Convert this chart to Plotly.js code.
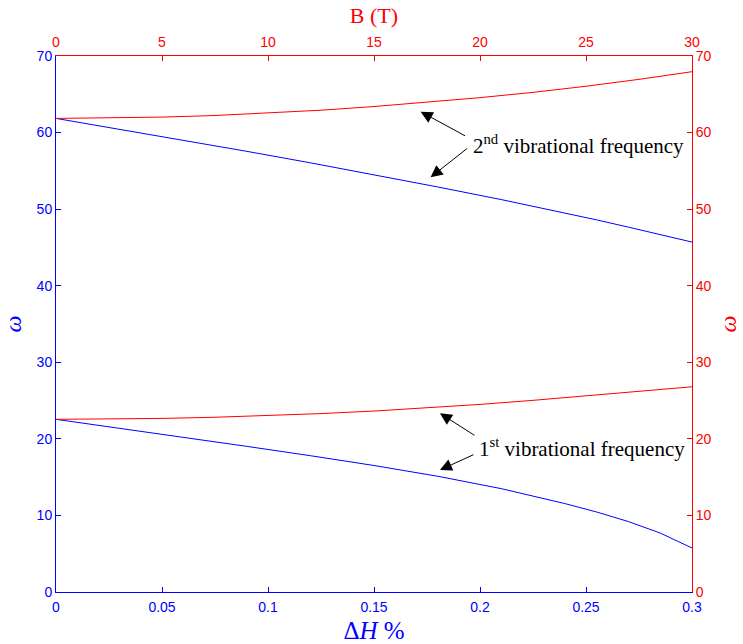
<!DOCTYPE html>
<html>
<head>
<meta charset="utf-8">
<script src="https://cdn.plot.ly/plotly-3.0.1.min.js"></script>
<style>html,body{margin:0;padding:0;background:#fff;}#chart{width:743px;height:644px;}</style>
</head>
<body>
<div id="chart"></div>
<script>
// Strain axis (bottom, ΔH %)
const deltaH = [0, 0.03, 0.06, 0.09, 0.12, 0.15, 0.18, 0.21, 0.24, 0.255, 0.27, 0.285, 0.3];
const omega2Strain = [61.85, 60.45, 59.0, 57.55, 56.05, 54.5, 52.9, 51.25, 49.5, 48.6, 47.65, 46.7, 45.7];
const omega1Strain = [22.55, 21.4, 20.22, 19.02, 17.8, 16.52, 15.12, 13.5, 11.55, 10.45, 9.2, 7.7, 5.75];

// Magnetic field axis (top, B in T)
const fieldB = [0, 2.5, 5, 7.5, 10, 12.5, 15, 17.5, 20, 22.5, 25, 27.5, 30];
const omega2Field = [61.85, 61.89, 62.02, 62.23, 62.53, 62.92, 63.4, 63.95, 64.56, 65.25, 66.05, 66.95, 67.95];
const omega1Field = [22.55, 22.58, 22.67, 22.82, 23.03, 23.3, 23.63, 24.03, 24.5, 25.03, 25.62, 26.22, 26.8];

const xTicks = [0, 0.05, 0.1, 0.15, 0.2, 0.25, 0.3];
const x2Ticks = [0, 5, 10, 15, 20, 25, 30];
const yTicks = [0, 10, 20, 30, 40, 50, 60, 70];

const BLUE = '#0000FF', RED = '#FF0000';
const tickFont = (c) => ({family: 'Liberation Sans, Arial, sans-serif', size: 14, color: c});

const traces = [
  {x: deltaH, y: omega2Strain, xaxis: 'x', yaxis: 'y', mode: 'lines', line: {color: BLUE, width: 1}, hoverinfo: 'skip'},
  {x: deltaH, y: omega1Strain, xaxis: 'x', yaxis: 'y', mode: 'lines', line: {color: BLUE, width: 1}, hoverinfo: 'skip'},
  {x: fieldB, y: omega2Field, xaxis: 'x2', yaxis: 'y2', mode: 'lines', line: {color: RED, width: 1}, hoverinfo: 'skip'},
  {x: fieldB, y: omega1Field, xaxis: 'x2', yaxis: 'y2', mode: 'lines', line: {color: RED, width: 1}, hoverinfo: 'skip'}
];

const serif = 'Liberation Serif, Times New Roman, serif';
const arrow = (x, y, ax, ay) => ({
  xref: 'x', yref: 'y', x: x, y: y, ax: ax, ay: ay, text: '', showarrow: true,
  arrowhead: 2, arrowsize: 2.4, arrowwidth: 1, arrowcolor: '#000', standoff: 0, startstandoff: 0
});

const layout = {
  width: 743, height: 644,
  margin: {l: 56, r: 51, t: 56, b: 52, pad: 0},
  paper_bgcolor: '#fff', plot_bgcolor: '#fff',
  showlegend: false,
  xaxis: {
    range: [0, 0.3], tickvals: xTicks, ticktext: xTicks.map(String),
    ticks: 'inside', ticklen: 5, tickcolor: BLUE, tickwidth: 1, ticklabelstandoff: 2,
    showline: true, linecolor: BLUE, linewidth: 1, showgrid: false, zeroline: false,
    tickfont: tickFont(BLUE), automargin: false,
    title: {text: 'Δ<i>H</i> %', font: {family: serif, size: 25, color: BLUE}, standoff: 7}
  },
  yaxis: {
    range: [0, 70], tickvals: yTicks,
    ticks: 'inside', ticklen: 5, tickcolor: BLUE, tickwidth: 1,
    showline: true, linecolor: BLUE, linewidth: 1, showgrid: false, zeroline: false,
    tickfont: tickFont(BLUE), automargin: false,
    title: {text: '<i>ω</i>', font: {family: serif, size: 24, color: BLUE}, standoff: 8}
  },
  xaxis2: {
    overlaying: 'x', side: 'top', anchor: 'y2', range: [0, 30], tickvals: x2Ticks,
    ticks: 'inside', ticklen: 5, tickcolor: RED, tickwidth: 1, ticklabelstandoff: 2,
    showline: true, linecolor: RED, linewidth: 1, showgrid: false, zeroline: false,
    tickfont: tickFont(RED), automargin: false,
    title: {text: 'B (T)', font: {family: serif, size: 22, color: RED}, standoff: 4}
  },
  yaxis2: {
    overlaying: 'y', side: 'right', anchor: 'x2', range: [0, 70], tickvals: yTicks,
    ticks: 'inside', ticklen: 5, tickcolor: RED, tickwidth: 1,
    showline: true, linecolor: RED, linewidth: 1, showgrid: false, zeroline: false,
    tickfont: tickFont(RED), automargin: false,
    title: {text: '<i>ω</i>', font: {family: serif, size: 24, color: RED}, standoff: 8}
  },
  annotations: [
    {xref: 'paper', yref: 'paper', x: 0.6525, y: 0.834, xanchor: 'left', yanchor: 'middle',
     text: '2<sup>nd</sup> vibrational frequency', showarrow: false,
     font: {family: serif, size: 21, color: '#000'}},
    {xref: 'paper', yref: 'paper', x: 0.662, y: 0.2687, xanchor: 'left', yanchor: 'middle',
     text: '1<sup>st</sup> vibrational frequency', showarrow: false,
     font: {family: serif, size: 21, color: '#000'}},
    arrow(0.1720, 62.73, 46, 25),
    arrow(0.1767, 54.16, 38, -30),
    arrow(0.1811, 23.34, 36, 23),
    arrow(0.1811, 15.93, 35, -16)
  ]
};

Plotly.newPlot('chart', traces, layout, {staticPlot: true, displayModeBar: false});
</script>
</body>
</html>
